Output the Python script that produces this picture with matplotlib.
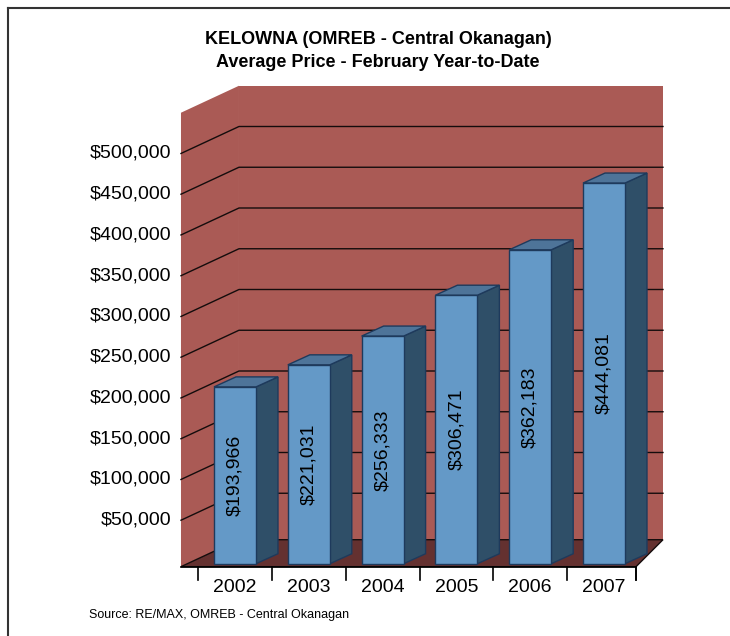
import matplotlib.pyplot as plt
from matplotlib.patches import Polygon
from matplotlib.lines import Line2D
import numpy as np

# Average price, February year-to-date
years = ['2002', '2003', '2004', '2005', '2006', '2007']
avg_price = [193966, 221031, 256333, 306471, 362183, 444081]
price_labels = ['$193,966', '$221,031', '$256,333', '$306,471', '$362,183', '$444,081']
tick_values = [50000, 100000, 150000, 200000, 250000, 300000, 350000, 400000, 450000, 500000]
tick_labels = ['$50,000', '$100,000', '$150,000', '$200,000', '$250,000',
               '$300,000', '$350,000', '$400,000', '$450,000', '$500,000']

Y_MAX = 550000
FLOOR = -7000

# fake 3d geometry (x in category units, y in dollars on the bar plane)
FRONT_DV = -19600      # value shift of the front plane
DEPTH_DV = 33100       # value shift front -> back wall
LF, LB = -0.732, 0.054  # left edge x, front / back
RF, RB = 5.434, 5.799   # right edge x, front / back
BW = 0.569             # bar width
BDX, BDV = 0.298, 12300  # bar depth offset
BASE = -23000

WALL = '#aa5a55'
FLOOR_C = '#643130'
FRONT_C = '#6499c7'
SIDE_C = '#2f4f68'
TOP_C = '#4e7499'
EDGE_C = '#1e3a5c'
FONT = 'Liberation Sans'


def wall_pt(u, v, d):
    xf = LF + u * (RF - LF)
    xb = LB + u * (RB - LB)
    return (xf + d * (xb - xf), v + FRONT_DV + d * DEPTH_DV)


fig = plt.figure(figsize=(7.3, 6.36), dpi=100)
ax = fig.add_axes([0, 0, 1, 1])
ax.set_xlim(-235 / 73.8, 495 / 73.8)
ax.set_ylim((545 - 636) / 0.815 * 1000, 545 / 0.815 * 1000)
ax.axis('off')

# back wall and left wall
back = [wall_pt(0, FLOOR, 1), wall_pt(1, FLOOR, 1), wall_pt(1, Y_MAX, 1), wall_pt(0, Y_MAX, 1)]
left = [wall_pt(0, FLOOR, 0), wall_pt(0, FLOOR, 1), wall_pt(0, Y_MAX, 1), wall_pt(0, Y_MAX, 0)]
ax.add_patch(Polygon(back, closed=True, facecolor=WALL, edgecolor='none', zorder=1))
ax.add_patch(Polygon(left, closed=True, facecolor=WALL, edgecolor='none', zorder=1))

# gridlines
for v in tick_values:
    p0, p1, p2 = wall_pt(0, v, 0), wall_pt(0, v, 1), wall_pt(1, v, 1)
    ax.plot([p0[0], p1[0], p2[0]], [p0[1], p1[1], p2[1]], color='#140c0c', lw=1.0, zorder=2)

# floor
floor = [wall_pt(0, FLOOR, 0), wall_pt(1, FLOOR, 0), wall_pt(1, FLOOR, 1), wall_pt(0, FLOOR, 1)]
ax.add_patch(Polygon(floor, closed=True, facecolor=FLOOR_C, edgecolor='#140c0c',
                     lw=1.0, zorder=3))

# bars
for i, val in enumerate(avg_price):
    x0, x1 = i - BW / 2, i + BW / 2
    front = [(x0, BASE), (x1, BASE), (x1, val), (x0, val)]
    side = [(x1, BASE), (x1 + BDX, BASE + BDV), (x1 + BDX, val + BDV), (x1, val)]
    top = [(x0, val), (x1, val), (x1 + BDX, val + BDV), (x0 + BDX, val + BDV)]
    for poly, col in [(side, SIDE_C), (top, TOP_C), (front, FRONT_C)]:
        ax.add_patch(Polygon(poly, closed=True, facecolor=col, edgecolor=EDGE_C,
                             lw=1.0, joinstyle='miter', zorder=4 + i))
    ax.text(i, (BASE + val) / 2, price_labels[i], rotation=90, ha='center', va='center',
            fontsize=14, family=FONT, zorder=20)

# front edge, ticks and year labels
fy = FLOOR + FRONT_DV
tick_len = 13 / 0.815 * 1000
ax.plot([LF, RF], [fy, fy], color='black', lw=1.2, zorder=15)
for b in np.arange(-0.5, len(years)):
    bx = min(max(b, LF), RF)
    ax.plot([bx, bx], [fy, fy - tick_len], color='black', lw=1.2, zorder=15)
ax.plot([RF, RF], [fy, fy - tick_len], color='black', lw=1.2, zorder=15)
for i, yr in enumerate(years):
    ax.text(i, -52000, yr, ha='center', va='center', fontsize=14, family=FONT)

# value axis labels
for v, lab in zip(tick_values, tick_labels):
    ax.text((171 - 235) / 73.8, v + FRONT_DV, lab, ha='right', va='center',
            fontsize=14, family=FONT)

fig.text(0.518, 1 - 51 / 636, 'KELOWNA (OMREB - Central Okanagan)\nAverage Price - February Year-to-Date',
         ha='center', va='center', fontsize=13, fontweight='bold', family=FONT,
         linespacing=1.45)
fig.text(89 / 730, 1 - 615 / 636, 'Source: RE/MAX, OMREB - Central Okanagan',
         ha='left', va='center', fontsize=9, family=FONT)

# outer frame
fig.add_artist(Line2D([8 / 730, 1], [1 - 8 / 636, 1 - 8 / 636], color='#333333', lw=1.5))
fig.add_artist(Line2D([8 / 730, 8 / 730], [0, 1 - 8 / 636], color='#333333', lw=1.5))

fig.savefig('out.png', dpi=100)
